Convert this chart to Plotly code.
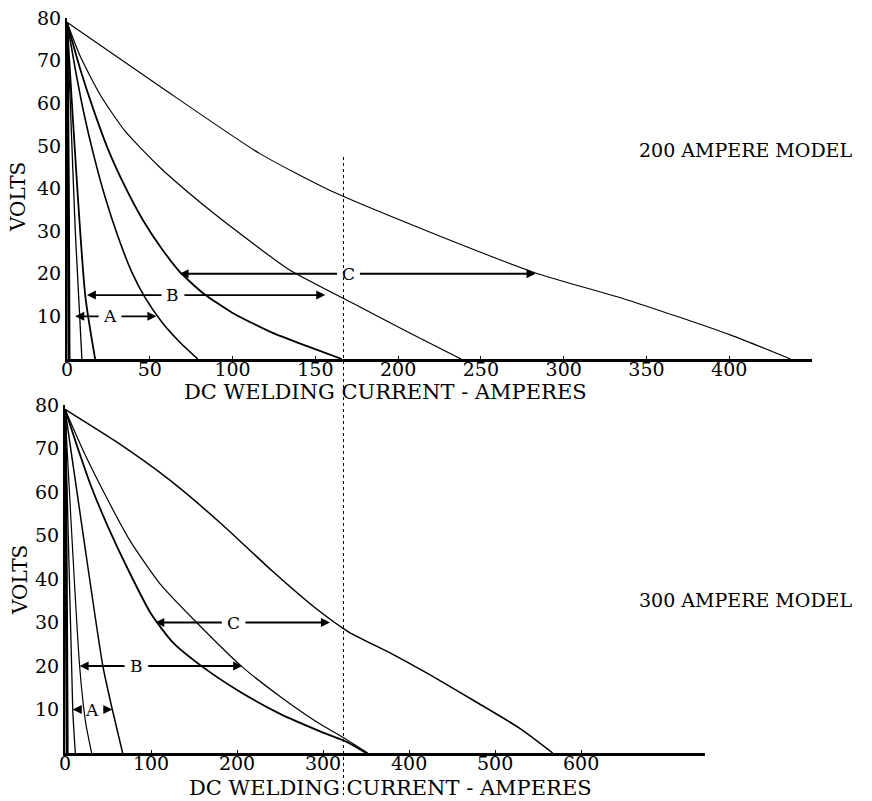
import plotly.graph_objects as go

# ---------------- DATA ----------------
# 200 AMPERE MODEL  (amps, volts)
top_c1_amps = [0, 0.8, 1.2];  top_c1_volts = [79, 40, 0]
top_c2_amps = [0, 2, 5, 9];   top_c2_volts = [79, 60, 30, 0]
top_c3_amps = [0, 11, 17];    top_c3_volts = [79, 15, 0]
top_c4_amps = [0, 5, 10, 16, 23, 31, 39, 47, 57, 68, 79]
top_c4_volts = [79, 68, 58, 48, 38, 28.5, 20.5, 14.5, 8.8, 4, 0]
top_c5_amps = [0, 8, 16, 25, 35, 46, 57, 68, 82, 100, 125, 145, 166]
top_c5_volts = [79, 68, 58.5, 49, 40.5, 32.5, 26, 20.5, 15.5, 10.8, 6, 3, 0]
top_c6_amps = [0, 8, 20, 35, 56, 86, 110, 134, 177, 205, 238]
top_c6_volts = [79, 71, 62, 53.5, 45, 35, 27.8, 21, 12.2, 6.5, 0]
top_c7_amps = [0, 56, 116, 158, 219, 283, 339, 401, 437]
top_c7_volts = [79, 64, 48.3, 39.7, 29.8, 20.2, 13.8, 5.6, 0]

# 300 AMPERE MODEL
bot_c1_amps = [0, 1.5, 2.5];  bot_c1_volts = [79, 40, 0]
bot_c2_amps = [0, 9, 12];     bot_c2_volts = [79, 10, 0]
bot_c3_amps = [0, 17, 24, 31]; bot_c3_volts = [79, 20, 7, 0]
bot_c4_amps = [0, 22, 44, 55, 67]; bot_c4_volts = [79, 49, 20, 10, 0]
bot_c5_amps = [0, 15, 30, 50, 75, 100, 125, 160, 200, 250, 300, 328, 350]
bot_c5_volts = [79, 70, 61.5, 52, 41.5, 32, 25.5, 19.8, 14.5, 9, 4.7, 2.5, 0]
bot_c6_amps = [0, 20, 45, 75, 110, 153, 206, 250, 290, 328, 352]
bot_c6_volts = [79, 70, 60, 49, 39, 30, 19.8, 13, 7.5, 3, 0]
bot_c7_amps = [0, 60, 120, 180, 240, 290, 330, 380, 424, 480, 530, 567]
bot_c7_volts = [79, 71.5, 63, 53, 42, 33.5, 27.8, 22.8, 18, 11.5, 5.5, 0]

# range brackets: (label, volts, start amps, end amps, label amps)
top_ranges = [("A", 10, 5, 54, 26), ("B", 15, 12, 156, 64), ("C", 20, 68, 283, 170)]
bot_ranges = [("A", 10, 9, 55, 31), ("B", 20, 17, 206, 83), ("C", 30, 105, 308, 196)]

top_xticks = [0, 50, 100, 150, 200, 250, 300, 350, 400]
bot_xticks = [0, 100, 200, 300, 400, 500, 600]
yticks = [10, 20, 30, 40, 50, 60, 70, 80]
dotted_line_amps_top = 167

top_model_label = "200 AMPERE MODEL"
bot_model_label = "300 AMPERE MODEL"
x_title = "DC WELDING CURRENT - AMPERES"
y_title = "VOLTS"

# ---------------- FIGURE ----------------
W, H = 872, 801
FONT = "DejaVu Serif"

def px_x(p):
    return p / W

def px_y(p):
    return (H - p) / H

fig = go.Figure()

top_curves = [
    (top_c1_amps, top_c1_volts, 3.0),
    (top_c2_amps, top_c2_volts, 1.3),
    (top_c3_amps, top_c3_volts, 1.8),
    (top_c4_amps, top_c4_volts, 1.6),
    (top_c5_amps, top_c5_volts, 1.8),
    (top_c6_amps, top_c6_volts, 1.2),
    (top_c7_amps, top_c7_volts, 1.1),
]
bot_curves = [
    (bot_c1_amps, bot_c1_volts, 3.0),
    (bot_c2_amps, bot_c2_volts, 1.3),
    (bot_c3_amps, bot_c3_volts, 1.2),
    (bot_c4_amps, bot_c4_volts, 1.5),
    (bot_c5_amps, bot_c5_volts, 1.8),
    (bot_c6_amps, bot_c6_volts, 1.2),
    (bot_c7_amps, bot_c7_volts, 1.5),
]

for xs, ys, w in top_curves:
    fig.add_trace(go.Scatter(x=xs, y=ys, mode="lines", xaxis="x", yaxis="y",
                             line=dict(color="black", width=w, shape="spline", smoothing=0.6),
                             showlegend=False, hoverinfo="skip"))
for xs, ys, w in bot_curves:
    fig.add_trace(go.Scatter(x=xs, y=ys, mode="lines", xaxis="x2", yaxis="y2",
                             line=dict(color="black", width=w, shape="spline", smoothing=0.6),
                             showlegend=False, hoverinfo="skip"))

annotations = []

def add_ranges(ranges, xr, yr, gap):
    for lab, v, a0, a1, al in ranges:
        for head, tail in ((a0, al - gap), (a1, al + gap)):
            annotations.append(dict(x=head, y=v, ax=tail, ay=v, xref=xr, yref=yr,
                                    axref=xr, ayref=yr, text="", showarrow=True,
                                    arrowhead=2, arrowsize=1.0, arrowwidth=1.8,
                                    arrowcolor="black"))
        annotations.append(dict(x=al, y=v, xref=xr, yref=yr, text=lab, showarrow=False,
                                xanchor="center", yanchor="middle",
                                font=dict(family=FONT, size=17, color="black")))

add_ranges(top_ranges, "x", "y", 6)
add_ranges(bot_ranges, "x2", "y2", 12)

def paper_text(px, py, text, size, xanchor="center", angle=0):
    return dict(x=px_x(px), y=px_y(py), xref="paper", yref="paper", text=text,
                xanchor=xanchor, yanchor="middle", textangle=angle, showarrow=False,
                font=dict(family=FONT, size=size, color="black"))

annotations += [
    paper_text(385, 392, x_title, 21),
    paper_text(390, 788, x_title, 21),
    paper_text(18, 197, y_title, 20, angle=-90),
    paper_text(20, 580, y_title, 20, angle=-90),
    paper_text(637, 150, top_model_label, 19, xanchor="left"),
    paper_text(637, 600, bot_model_label, 19, xanchor="left"),
]

shapes = [
    dict(type="line", xref="x", yref="paper", x0=dotted_line_amps_top, x1=dotted_line_amps_top,
         y0=px_y(157), y1=px_y(795), line=dict(color="black", width=1, dash="dot")),
]

axis_common = dict(showgrid=False, zeroline=False, showline=True, linecolor="black",
                   automargin=False, tickfont=dict(family=FONT, size=19, color="black"),
                   fixedrange=True)

fig.update_layout(
    template="none",
    width=W, height=H,
    margin=dict(l=0, r=0, t=0, b=0),
    paper_bgcolor="white", plot_bgcolor="white",
    showlegend=False,
    xaxis=dict(domain=[px_x(67), px_x(812)], range=[0, 450], anchor="y",
               tickvals=top_xticks, ticks="inside", ticklen=3, tickcolor="black",
               ticklabelstandoff=-9, linewidth=2.5, **axis_common),
    yaxis=dict(domain=[px_y(359), px_y(18)], range=[0, 80], anchor="x",
               tickvals=yticks, ticks="", linewidth=2, **axis_common),
    xaxis2=dict(domain=[px_x(65), px_x(705)], range=[0, 744], anchor="y2",
                tickvals=bot_xticks, ticks="inside", ticklen=3, tickcolor="black",
                ticklabelstandoff=-9, linewidth=2.5, **axis_common),
    yaxis2=dict(domain=[px_y(753), px_y(405)], range=[0, 80], anchor="x2",
                tickvals=yticks, ticks="", linewidth=2, **axis_common),
    annotations=annotations,
    shapes=shapes,
)

fig.write_html("out.html", config={"displayModeBar": False},
               post_script="document.body.style.margin='0';document.body.style.overflow='hidden';")
